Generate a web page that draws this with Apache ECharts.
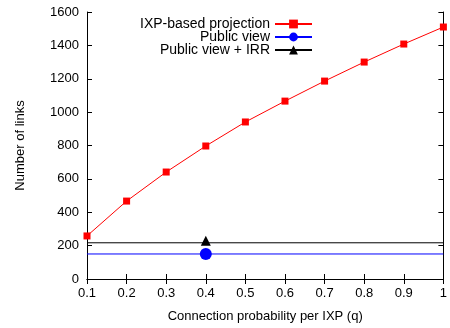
<!DOCTYPE html>
<html>
<head>
<meta charset="utf-8">
<script src="https://cdn.jsdelivr.net/npm/echarts@6/dist/echarts.min.js"></script>
<style>
  html, body { margin: 0; padding: 0; background: #fff; }
  #chart { width: 450px; height: 328px; }
</style>
</head>
<body>
<div id="chart"></div>
<script>
// connection probability q
const qValues = [0.1, 0.2, 0.3, 0.4, 0.5, 0.6, 0.7, 0.8, 0.9, 1.0]
// IXP-based projection
const ixpLinks = [258, 467, 641, 797, 941, 1066, 1186, 1300, 1408, 1510]
// public view (single measurement at q = 0.4, shown as a horizontal line)
const publicQ = 0.4
const publicLinks = 150
const publicIrrLinks = 217

const xTicks = [0.1, 0.2, 0.3, 0.4, 0.5, 0.6, 0.7, 0.8, 0.9, 1]
const yTicks = [0, 200, 400, 600, 800, 1000, 1200, 1400, 1600]

const chart = echarts.init(document.getElementById('chart'), null, { renderer: 'canvas' })

const font = 'Liberation Sans, Arial, sans-serif'
const axisLine = { show: true, lineStyle: { color: '#000', width: 1 } }
const tick = { show: true, inside: true, length: 5, lineStyle: { color: '#000' } }

function hline(name, y, color, symbol, size, offsetY) {
  return {
    name,
    type: 'line',
    showSymbol: true,
    symbol,
    symbolSize: size,
    itemStyle: { color },
    lineStyle: { color, width: 1 },
    data: [
      { value: [xTicks[0], y], symbol: 'none' },
      { value: [publicQ, y], symbolOffset: [0, offsetY] },
      { value: [xTicks[xTicks.length - 1], y], symbol: 'none' },
    ],
    z: 3,
  }
}

chart.setOption({
  animation: false,
  textStyle: { fontFamily: font },
  grid: { left: 87, right: 1, top: 12, bottom: 49 },
  legend: {
    orient: 'vertical',
    right: 137,
    top: 17,
    padding: 0,
    align: 'right',
    itemWidth: 37,
    itemHeight: 11,
    itemGap: -1,
    textStyle: { fontFamily: font, fontSize: 14, color: '#000' },
    data: ['IXP-based projection', 'Public view', 'Public view + IRR'],
  },
  xAxis: [{
    type: 'value',
    min: 0.1,
    max: 1,
    interval: 0.1,
    name: 'Connection probability per IXP (q)',
    nameLocation: 'middle',
    nameGap: 31,
    nameTextStyle: { fontFamily: font, fontSize: 13, color: '#000' },
    axisLine,
    axisTick: tick,
    splitLine: { show: false },
    axisLabel: {
      fontFamily: font, fontSize: 13, color: '#000', margin: 8,
      formatter: v => String(Math.round(v * 10) / 10),
    },
  }, {
    type: 'value',
    position: 'top',
    min: 0.1,
    max: 1,
    interval: 0.1,
    axisLine,
    axisTick: tick,
    axisLabel: { show: false },
    splitLine: { show: false },
  }],
  yAxis: [{
    type: 'value',
    min: yTicks[0],
    max: yTicks[yTicks.length - 1],
    interval: 200,
    name: 'Number of links',
    nameLocation: 'middle',
    nameGap: 60,
    nameTextStyle: { fontFamily: font, fontSize: 13, color: '#000' },
    axisLine,
    axisTick: tick,
    splitLine: { show: false },
    axisLabel: { fontFamily: font, fontSize: 13, color: '#000', margin: 8, formatter: v => String(v) },
  }, {
    type: 'value',
    position: 'right',
    min: yTicks[0],
    max: yTicks[yTicks.length - 1],
    interval: 200,
    axisLine,
    axisTick: tick,
    axisLabel: { show: false },
    splitLine: { show: false },
  }],
  series: [
    {
      name: 'IXP-based projection',
      type: 'line',
      symbol: 'rect',
      symbolSize: 7,
      itemStyle: { color: '#ff0000' },
      lineStyle: { color: '#ff0000', width: 1 },
      data: qValues.map((q, i) => [q, ixpLinks[i]]),
      z: 4,
    },
    hline('Public view', publicLinks, '#0000ff', 'circle', 12, 0),
    hline('Public view + IRR', publicIrrLinks, '#000000', 'triangle', 10, -2),
  ],
})
</script>
</body>
</html>
